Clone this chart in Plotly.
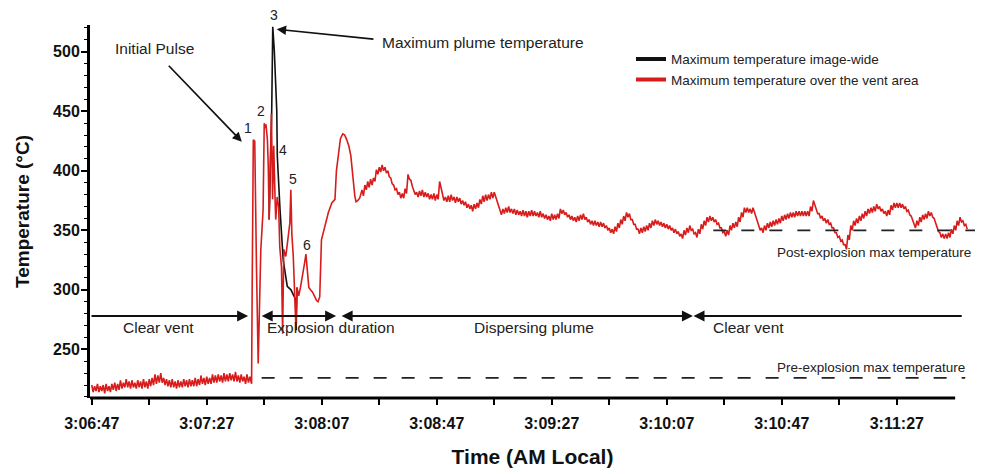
import numpy as np
import plotly.graph_objects as go

# ---------------- data (seconds after 3:06:47 AM, temperature in °C) ----------------
TICK_SECONDS = [0, 20, 40, 60, 80, 100, 120, 140, 160, 180, 200, 220, 240, 260, 280]
TICK_LABELS = ["3:06:47", "", "3:07:27", "", "3:08:07", "", "3:08:47", "",
               "3:09:27", "", "3:10:07", "", "3:10:47", "", "3:11:27"]

SAMPLE_STEP = 0.5  # seconds between samples of the regularly sampled parts

# pre-explosion samples, every 0.5 s starting at t = 0 s
pre_T = [220, 214, 219, 215, 221, 214, 219, 215, 220, 213, 221, 215, 219, 214, 221, 216, 222, 215, 221, 216,
         224, 217, 222, 218, 225, 218, 223, 217, 224, 218, 222, 217, 224, 218, 223, 217, 225, 218, 223, 217,
         225, 219, 226, 220, 229, 221, 228, 222, 230, 222, 226, 220, 225, 219, 224, 218, 225, 218, 223, 217,
         224, 218, 223, 218, 225, 219, 224, 218, 225, 219, 224, 219, 226, 219, 225, 220, 228, 221, 226, 220,
         227, 221, 226, 221, 229, 222, 228, 222, 229, 223, 228, 222, 230, 223, 229, 223, 230, 224, 229, 223,
         231, 223, 228, 222, 229, 223, 227, 221, 229, 222, 227, 222]

# explosion phase (irregular samples)
exp_t = [55.6, 55.8, 56.2, 56.7, 57.0, 57.3, 57.9, 58.3, 58.8, 59.6,
         60.0, 60.3, 60.6, 61.1, 61.4, 61.7, 62.2, 62.5, 62.9, 63.3,
         63.8, 64.0, 64.5, 65.0, 65.4, 66.0, 66.4, 66.8, 67.5, 68.3,
         68.9, 69.25, 69.6, 70.1, 70.6, 71.0, 71.4, 72.0, 72.6, 73.3,
         74.0, 74.5, 74.9, 75.5, 76.1, 76.8, 77.6, 78.2, 78.7, 79.3,
         79.9, 80.7, 81.6, 82.3, 83.5, 84.6, 85.1, 85.8, 86.5, 87.3,
         88.0, 88.7, 89.4, 90.1, 90.6, 91.0, 91.5, 91.9, 92.5, 93.2]
exp_T = [221, 300, 426, 425, 360, 319, 238, 280, 333, 367,
         440, 436, 439, 426, 404, 359, 418, 448, 376, 421,
         373, 359, 378, 370, 336, 319, 263, 334, 328, 342,
         356, 384, 347, 328, 302, 269, 302, 295, 302, 311,
         322, 330, 317, 302, 300, 298, 294, 291, 290, 294,
         342, 350, 360, 365, 373, 376, 400, 415, 427, 431,
         430, 426, 421, 413, 400, 390, 379, 374, 375, 377]

# plume / post-explosion samples, every 0.5 s starting at t = 94 s
POST_START = 94
post_T = [384, 379, 388, 384, 391, 386, 393, 388, 394, 391, 401, 397, 403, 399, 405, 400, 403, 398, 400, 395,
          394, 389, 388, 384, 385, 380, 382, 377, 381, 377, 385, 381, 397, 393, 392, 387, 384, 380, 382, 378,
          383, 379, 384, 378, 382, 378, 381, 376, 380, 376, 381, 375, 380, 376, 391, 386, 379, 375, 378, 374,
          379, 374, 380, 375, 378, 373, 378, 374, 377, 372, 375, 371, 374, 369, 372, 368, 371, 366, 372, 368,
          373, 369, 376, 372, 379, 374, 380, 375, 380, 376, 382, 377, 382, 378, 374, 369, 367, 363, 368, 364,
          369, 365, 370, 365, 368, 364, 368, 363, 367, 363, 366, 362, 367, 362, 366, 361, 366, 362, 367, 362,
          366, 362, 365, 361, 366, 361, 364, 360, 363, 359, 362, 358, 364, 359, 363, 359, 364, 360, 368, 364,
          367, 363, 365, 361, 363, 359, 362, 358, 361, 357, 362, 358, 363, 359, 364, 359, 361, 357, 359, 355,
          358, 354, 358, 354, 357, 353, 357, 353, 356, 352, 354, 350, 352, 348, 351, 347, 353, 349, 356, 352,
          359, 355, 362, 358, 365, 361, 364, 359, 359, 355, 355, 351, 351, 347, 352, 348, 353, 349, 354, 350,
          356, 352, 358, 354, 359, 355, 358, 354, 357, 353, 356, 352, 355, 351, 354, 350, 352, 348, 351, 347,
          349, 345, 347, 343, 350, 346, 352, 348, 354, 350, 351, 347, 348, 344, 351, 347, 355, 351, 358, 354,
          361, 357, 362, 358, 361, 357, 359, 355, 356, 352, 352, 348, 349, 345, 350, 346, 354, 350, 356, 352,
          357, 353, 361, 357, 365, 361, 369, 365, 369, 365, 368, 364, 369, 365, 362, 358, 354, 350, 352, 348,
          354, 350, 356, 352, 357, 353, 358, 354, 359, 355, 360, 356, 362, 358, 363, 359, 364, 360, 365, 361,
          365, 361, 366, 362, 366, 362, 366, 362, 366, 362, 366, 362, 370, 366, 375, 371, 368, 364, 364, 360,
          362, 358, 360, 356, 359, 355, 356, 352, 352, 348, 348, 344, 345, 341, 342, 338, 338, 334, 346, 342,
          354, 350, 358, 354, 360, 356, 362, 358, 364, 360, 366, 362, 368, 364, 369, 365, 370, 366, 372, 368,
          370, 366, 368, 364, 366, 362, 367, 363, 371, 367, 373, 369, 373, 369, 373, 369, 372, 368, 370, 366,
          367, 363, 362, 358, 356, 352, 358, 354, 361, 357, 363, 359, 364, 360, 366, 362, 365, 361, 360, 356,
          353, 349, 348, 344, 347, 343, 347, 343, 348, 344, 351, 347, 354, 350, 358, 354, 361, 357, 358, 354,
          355, 351]

# image-wide maximum where it departs from the vent-area maximum
black_t = [61.7, 62.6, 62.96, 63.5, 64.35, 64.55, 65.5, 66.6, 68.0, 69.3, 70.9, 71.1, 71.4]
black_T = [359, 451, 521, 501, 451, 412, 367, 325, 303, 300, 292, 266, 302]

PRE_MAX = 226     # pre-explosion max temperature
POST_MAX = 350    # post-explosion max temperature
PRE_SPAN = (59.1, 303.8)
POST_SPAN = (216.2, 307.2)

PHASE_LEVEL = 278
PHASE_LABEL_LEVEL = 268
# (head, tail, arrowside)
phase_arrows = [(54.4, -0.6, "end"), (85.0, 58.6, "end+start"),
                (209.1, 86.4, "end+start"), (209.3, 303.1, "end")]
phase_labels = [("Clear vent", 23.2), ("Explosion duration", 83.1),
                ("Dispersing plume", 153.8), ("Clear vent", 228.3)]

peak_labels = [("1", 54.3, 436), ("2", 58.9, 450), ("3", 63.5, 531),
               ("4", 66.4, 417.5), ("5", 69.9, 393), ("6", 74.8, 337.6)]

X_RANGE = [-0.6, 307.2]
X_AXIS_END = 300.3
Y_RANGE = [209.1, 522.5]

# ---------------- figure ----------------
pre_t = np.arange(len(pre_T)) * SAMPLE_STEP
post_t = POST_START + np.arange(len(post_T)) * SAMPLE_STEP
red_t = np.concatenate([pre_t, exp_t, post_t])
red_T = np.concatenate([pre_T, exp_T, post_T])

FONT = "Liberation Sans, Arial, sans-serif"
TXT = "#222222"
RED = "#d81c1c"

fig = go.Figure()
fig.add_trace(go.Scatter(x=black_t, y=black_T, mode="lines",
                         line=dict(color="#111111", width=1.6), showlegend=False))
fig.add_trace(go.Scatter(x=red_t, y=red_T, mode="lines",
                         line=dict(color=RED, width=1.6), showlegend=False))
# legend entries
fig.add_trace(go.Scatter(x=[None], y=[None], mode="lines", name="Maximum temperature image-wide",
                         line=dict(color="#111111", width=4)))
fig.add_trace(go.Scatter(x=[None], y=[None], mode="lines", name="Maximum temperature over the vent area",
                         line=dict(color=RED, width=4)))

shapes = [
    dict(type="line", xref="x", yref="y", x0=PRE_SPAN[0], x1=PRE_SPAN[1], y0=PRE_MAX, y1=PRE_MAX,
         line=dict(color=TXT, width=1.8, dash="13px,15px")),
    dict(type="line", xref="x", yref="y", x0=POST_SPAN[0], x1=POST_SPAN[1], y0=POST_MAX, y1=POST_MAX,
         line=dict(color=TXT, width=1.8, dash="13px,15px")),
    dict(type="line", xref="x", yref="paper", x0=X_RANGE[0], x1=X_AXIS_END, y0=0, y1=0,
         line=dict(color="black", width=3)),
]

ann = []
for head, tail, side in phase_arrows:
    ann.append(dict(x=head, y=PHASE_LEVEL, ax=tail, ay=PHASE_LEVEL, xref="x", yref="y",
                    axref="x", ayref="y", text="", showarrow=True, arrowhead=2,
                    arrowside=side, arrowsize=1.1, arrowwidth=2, arrowcolor="#111"))
for txt, t in phase_labels:
    ann.append(dict(x=t, y=PHASE_LABEL_LEVEL, xref="x", yref="y", text=txt, showarrow=False,
                    font=dict(family=FONT, size=15.5, color=TXT)))
for txt, t, T in peak_labels:
    ann.append(dict(x=t, y=(T - Y_RANGE[0]) / (Y_RANGE[1] - Y_RANGE[0]), xref="x", yref="paper",
                    xanchor="center", yanchor="middle",
                    text=txt, showarrow=False, font=dict(family=FONT, size=14, color=TXT)))
ann.append(dict(x=21.7, y=502.4, xref="x", yref="y", text="Initial Pulse", showarrow=False,
                font=dict(family=FONT, size=15.5, color=TXT)))
ann.append(dict(x=52.2, y=424.5, ax=26.3, ay=489.5, xref="x", yref="y", axref="x", ayref="y",
                text="", showarrow=True, arrowhead=2, arrowsize=1.1, arrowwidth=1.7, arrowcolor="#111"))
ann.append(dict(x=136.2, y=508.2, xref="x", yref="y", text="Maximum plume temperature",
                showarrow=False, font=dict(family=FONT, size=15.5, color=TXT)))
ann.append(dict(x=64.35, y=518.9, ax=98.5, ay=510.5, xref="x", yref="y", axref="x", ayref="y",
                text="", showarrow=True, arrowhead=2, arrowsize=1.1, arrowwidth=1.7, arrowcolor="#111"))
ann.append(dict(x=304.5, y=PRE_MAX + 9, xref="x", yref="y", text="Pre-explosion max temperature",
                showarrow=False, xanchor="right", font=dict(family=FONT, size=13.5, color=TXT)))
ann.append(dict(x=306.5, y=POST_MAX - 18.5, xref="x", yref="y", text="Post-explosion max temperature",
                showarrow=False, xanchor="right", font=dict(family=FONT, size=13.5, color=TXT)))

fig.update_layout(
    width=999, height=474,
    margin=dict(l=90, r=24, t=25, b=76),
    plot_bgcolor="white", paper_bgcolor="white",
    shapes=shapes, annotations=ann,
    legend=dict(x=0.6113, y=0.95, xanchor="left", yanchor="top",
                font=dict(family=FONT, size=13.5, color=TXT),
                bgcolor="rgba(0,0,0,0)", tracegroupgap=0),
    xaxis=dict(range=X_RANGE, showline=False, showgrid=False, zeroline=False, automargin=False,
               tickmode="array", tickvals=TICK_SECONDS, ticktext=TICK_LABELS,
               ticks="outside", ticklen=6, tickwidth=1.5, tickcolor="black",
               tickfont=dict(family=FONT, size=16, color="#111", weight="bold"), ticklabelstandoff=5,
               title=dict(text="Time (AM Local)", standoff=18,
                          font=dict(family=FONT, size=21, color="#111", weight="bold"))),
    yaxis=dict(range=Y_RANGE, showline=True, linewidth=3, linecolor="black", automargin=False,
               showgrid=False, zeroline=False, tick0=250, dtick=50,
               ticks="outside", ticklen=6, tickwidth=1.5, tickcolor="black",
               minor=dict(dtick=10, tick0=250, ticks="outside", ticklen=3, tickwidth=1.2,
                          tickcolor="black", showgrid=False),
               tickfont=dict(family=FONT, size=16, color="#111", weight="bold"), ticklabelstandoff=-2,
               title=dict(text="Temperature (°C)", standoff=19,
                          font=dict(family=FONT, size=19, color="#111", weight="bold"))),
)

fig.write_html("out.html", config={"displayModeBar": False},
               post_script="document.body.style.margin='0';")
